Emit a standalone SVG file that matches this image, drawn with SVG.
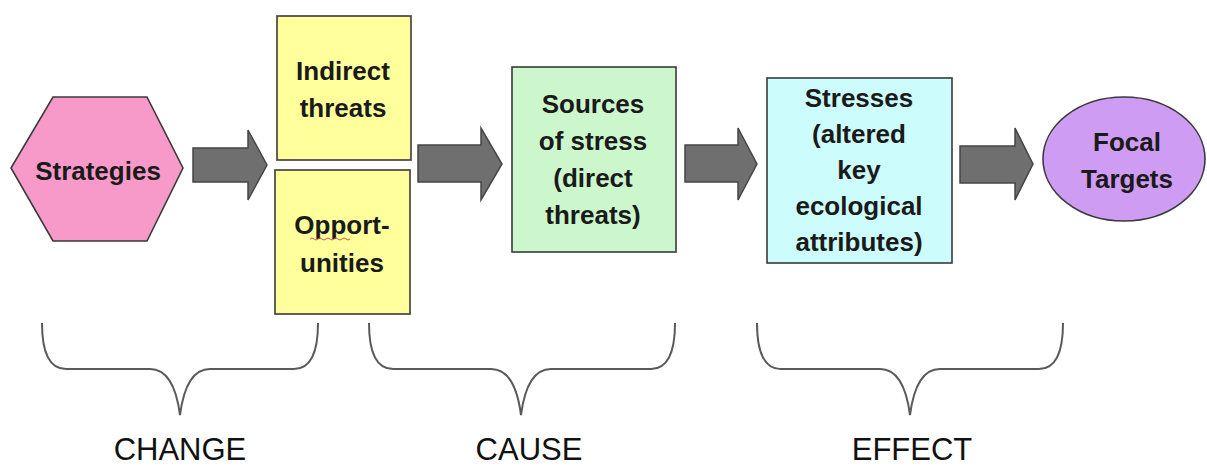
<svg xmlns="http://www.w3.org/2000/svg" width="1207" height="468" viewBox="0 0 1207 468">
  <style>
    .node { stroke: #3a3a3a; stroke-width: 1.6; }
    .lbl { font-family: "Liberation Sans", Arial, sans-serif; font-weight: bold; font-size: 26px; fill: #1a1a1a; text-anchor: middle; }
    .arrow { fill: #6f6f6f; stroke: #454545; stroke-width: 1.5; stroke-linejoin: miter; }
    .brace { fill: none; stroke: #5a5a5a; stroke-width: 2; }
    .phase { font-family: "Liberation Sans", Arial, sans-serif; font-size: 31px; fill: #111; text-anchor: middle; }
  </style>
  <rect width="1207" height="468" fill="#ffffff"/>

  <!-- connectors: block arrows between stages -->
  <g id="connectors">
    <polygon class="arrow" points="193,148 248,148 248,130 267,165 248,200 248,182 193,182"/>
    <polygon class="arrow" points="418,145 481,145 481,128 502,164 481,200 481,182 418,182"/>
    <polygon class="arrow" points="685,145 738,145 738,128 757,164 738,200 738,182 685,182"/>
    <polygon class="arrow" points="960,146 1015,146 1015,128 1033,164 1015,200 1015,183 960,183"/>
  </g>

  <g id="strategies">
    <polygon class="node" fill="#f79ac9" points="53,97 147,97 183,168 147,241 53,241 11,168"/>
    <text class="lbl" x="98" y="180" font-size="27">Strategies</text>
  </g>

  <g id="indirect-threats">
    <rect class="node" x="277" y="16" width="134" height="144" fill="#ffff9c"/>
    <text class="lbl" x="343" y="80">Indirect</text>
    <text class="lbl" x="343" y="117">threats</text>
  </g>

  <g id="opportunities">
    <rect class="node" x="275" y="170" width="135" height="144" fill="#ffff9c"/>
    <text class="lbl" x="342" y="234">Opport-</text>
    <path d="M310,239 q2,-2 4,0 t4,0 t4,0 t4,0 t4,0 t4,0 t4,0 t4,0 t4,0 t4,0" fill="none" stroke="#d9534f" stroke-width="1"/>
    <text class="lbl" x="342" y="272">unities</text>
  </g>

  <g id="sources-of-stress">
    <rect class="node" x="512" y="67" width="164" height="185" fill="#ccf7cc"/>
    <text class="lbl" x="593" y="113">Sources</text>
    <text class="lbl" x="593" y="150">of stress</text>
    <text class="lbl" x="593" y="187">(direct</text>
    <text class="lbl" x="593" y="224">threats)</text>
  </g>

  <g id="stresses">
    <rect class="node" x="767" y="78" width="185" height="185" fill="#ccfcfc"/>
    <text class="lbl" x="859" y="107">Stresses</text>
    <text class="lbl" x="859" y="143">(altered</text>
    <text class="lbl" x="859" y="179">key</text>
    <text class="lbl" x="859" y="215">ecological</text>
    <text class="lbl" x="859" y="251">attributes)</text>
  </g>

  <g id="focal-targets">
    <ellipse class="node" cx="1124" cy="159" rx="81" ry="62" fill="#cf9cf3"/>
    <text class="lbl" x="1127" y="151">Focal</text>
    <text class="lbl" x="1127" y="188">Targets</text>
  </g>

  <!-- braces grouping the stages -->
  <g id="change">
    <path class="brace" d="M42,323 Q42,369 66,369 L150,369 Q174,369 180,415 Q186,369 210,369 L294,369 Q318,369 318,323"/>
    <text class="phase" x="180" y="460">CHANGE</text>
  </g>
  <g id="cause">
    <path class="brace" d="M369,323 Q369,369 393,369 L491,369 Q515,369 521,415 Q527,369 551,369 L651,369 Q675,369 675,323"/>
    <text class="phase" x="529" y="460">CAUSE</text>
  </g>
  <g id="effect">
    <path class="brace" d="M757,323 Q757,369 781,369 L880,369 Q904,369 910,415 Q916,369 940,369 L1039,369 Q1063,369 1063,323"/>
    <text class="phase" x="912" y="460">EFFECT</text>
  </g>
</svg>
